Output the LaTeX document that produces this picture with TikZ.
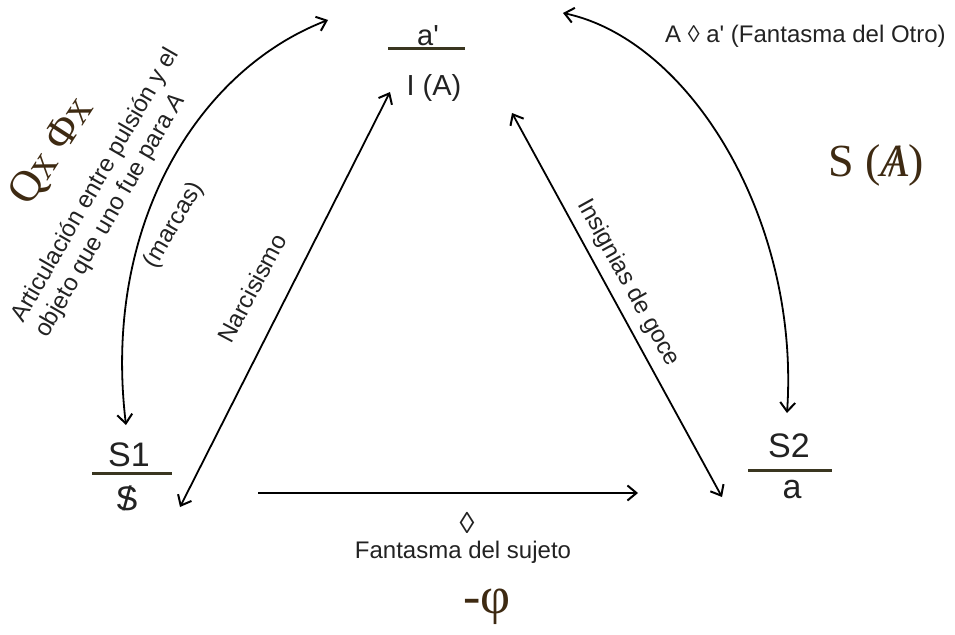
\documentclass[tikz,border=0pt]{standalone}
\usepackage{fontspec}
\setmainfont{Liberation Sans}
\newfontfamily\serf{Liberation Serif}
\usetikzlibrary{arrows.meta}
\definecolor{ink}{HTML}{222222}
\definecolor{lacan}{HTML}{3E2A12}
\definecolor{rulecol}{HTML}{3A3620}
\newcommand{\mybarS}{{\ooalign{S\cr\hidewidth/\hidewidth\cr}}}
\newcommand{\mybarA}{{\ooalign{\itshape A\cr\hidewidth/\hidewidth\cr}}}
\begin{document}
\begin{tikzpicture}[x=1pt,y=-1pt,
  lbl/.style={inner sep=0pt, text=ink, font=\fontsize{24}{28}\selectfont},
  sym/.style={inner sep=0pt, text=ink, font=\fontsize{34}{40}\selectfont},
  symsmall/.style={inner sep=0pt, text=ink, font=\fontsize{29}{34}\selectfont},
  big/.style={inner sep=0pt, text=lacan, font=\serf\fontsize{46}{52}\selectfont},
  fracline/.style={draw=rulecol, line width=3pt},
  barb/.tip={Straight Barb[length=9pt,width=15pt,line width=2pt]},
  conn/.style={line width=1.8pt, draw=black},
]
\useasboundingbox (0,0) rectangle (955,634);

% top node a' / I(A)
\node[symsmall] (ap) at (428,36) {a\textquotesingle};
\coordinate (tl) at (388,49);
\coordinate (tr) at (465,49);
\draw[fracline] (tl) -- (tr);
\node[symsmall] (IA) at (434,88) {I (A)};

% left node S1 / barred S
\node[sym] (S1) at (129,455) {S1};
\coordinate (ll) at (92,473);
\coordinate (lr) at (172,473);
\draw[fracline] (ll) -- (lr);
\node[sym] (S1b) at (127,499) {\mybarS};

% right node S2 / a
\node[sym] (S2) at (789,446) {S2};
\coordinate (rl) at (748,470);
\coordinate (rr) at (832,470);
\draw[fracline] (rl) -- (rr);
\node[sym] (a) at (792,490) {a};

% connector end points
\coordinate (nA) at (180,507);
\coordinate (nB) at (390,92);
\coordinate (iA) at (512,113);
\coordinate (iB) at (722,497);
\coordinate (bA) at (258,493);
\coordinate (bB) at (638,493);
\coordinate (cL1) at (126,425);
\coordinate (cL2) at (328,20);
\coordinate (cR1) at (787,413);
\coordinate (cR2) at (563,13);

\draw[conn, barb-barb] (nA) -- (nB);
\draw[conn, barb-barb] (iA) -- (iB);
\draw[conn, -barb] (bA) -- (bB);
\draw[conn, barb-barb] (cL1) .. controls (102,225) and (198,70) .. (cL2);
\draw[conn, barb-barb] (cR1) .. controls (800,220) and (690,40) .. (cR2);

% labels
\node[lbl, rotate=60, anchor=base west] (art1) at (23,324) {Articulación entre pulsión y el};
\node[lbl, rotate=60, anchor=base west] (art2) at (47,339) {objeto que uno fue para \textit{A}};
\node[lbl, rotate=60] (marcas) at (174,225) {(marcas)};
\node[big, rotate=57, font=\serf\fontsize{44}{50}\selectfont] (Q) at (53,152) {Qx Φx};
\node[lbl, rotate=62] (narc) at (252,288) {Narcisismo};
\node[lbl, rotate=-61] (insig) at (628,283) {Insignias de goce};
\node[lbl, anchor=west] (fo) at (665,36) {A ◊ a\textquotesingle\ (Fantasma del Otro)};
\node[big] (SA) at (876,165) {S (\mybarA)};
\node[lbl, font=\fontsize{30}{34}\selectfont] (loz) at (467,523) {◊};
\node[lbl] (fs) at (463,552) {Fantasma del sujeto};
\node[big, font=\serf\fontsize{52}{58}\selectfont] (phi) at (487,607) {-φ};
\end{tikzpicture}
\end{document}
